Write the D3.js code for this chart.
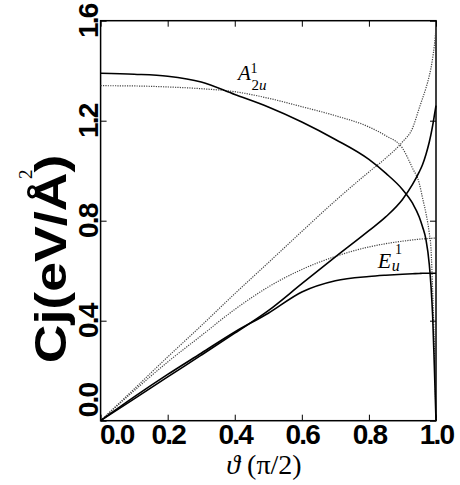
<!DOCTYPE html>
<html>
<head>
<meta charset="utf-8">
<script src="https://cdn.jsdelivr.net/npm/d3@7"></script>
<style>
  body { margin: 0; background: #fff; }
  svg { display: block; }
</style>
</head>
<body>
<svg id="chart"></svg>
<script>
// theta in units of pi/2
const theta = [0, 0.1, 0.2, 0.3, 0.4, 0.5, 0.6, 0.7, 0.8, 0.85, 0.9, 0.93, 0.95, 0.96, 0.97, 0.98, 0.985, 0.99, 0.995, 1.0];

// A2u branch (solid and dotted)
const a2uSolid  = [1.39, 1.386, 1.378, 1.355, 1.305, 1.255, 1.195, 1.125, 1.045, 0.99, 0.925, 0.87, 0.815, 0.775, 0.725, 0.625, 0.54, 0.42, 0.22, 0.0];
const a2uDotted = [1.34, 1.339, 1.335, 1.328, 1.316, 1.29, 1.256, 1.22, 1.175, 1.14, 1.09, 1.01, 0.95, 0.89, 0.83, 0.75, 0.69, 0.52, 0.3, 0.0];
// Eu branch (solid and dotted)
const euSolid   = [0, 0.095, 0.185, 0.27, 0.355, 0.43, 0.515, 0.56, 0.577, 0.582, 0.586, 0.588, 0.589, 0.59, 0.59, 0.59, 0.59, 0.59, 0.59, 0.59];
const euDotted  = [0, 0.12, 0.235, 0.34, 0.445, 0.535, 0.605, 0.657, 0.695, 0.708, 0.718, 0.723, 0.726, 0.727, 0.728, 0.729, 0.729, 0.73, 0.73, 0.73];
// rising curves that end at theta = 1
const riseSolid  = [0, 0.087, 0.175, 0.262, 0.35, 0.44, 0.548, 0.655, 0.76, 0.815, 0.885, 0.945, 0.995, 1.025, 1.065, 1.115, 1.145, 1.18, 1.22, 1.26];
const riseDotted = [0, 0.127, 0.255, 0.38, 0.508, 0.632, 0.757, 0.88, 0.995, 1.05, 1.115, 1.17, 1.25, 1.29, 1.33, 1.38, 1.41, 1.45, 1.5, 1.57];

const xTicks = [0, 0.2, 0.4, 0.6, 0.8, 1.0];
const yTicks = [0, 0.4, 0.8, 1.2, 1.6];

const W = 460, H = 485;
const margin = { top: 20.7, right: 24, bottom: 64.3, left: 100.6 };
const width = W - margin.left - margin.right;
const height = H - margin.top - margin.bottom;

const svg = d3.select("#chart").attr("width", W).attr("height", H);
svg.append("rect").attr("width", W).attr("height", H).attr("fill", "#fff");

const g = svg.append("g").attr("transform", `translate(${margin.left},${margin.top})`);

const x = d3.scaleLinear().domain([0, 1]).range([0, width]);
const y = d3.scaleLinear().domain([0, 1.6]).range([height, 0]);

const fmt = d3.format(".1f");
const tickFont = "'Liberation Sans', Arial, sans-serif";

// bottom axis
const xAxis = g.append("g")
    .attr("transform", `translate(0,${height})`)
    .call(d3.axisBottom(x).tickValues(xTicks).tickFormat(fmt).tickSize(-6).tickSizeOuter(0).tickPadding(3));
// top axis (ticks only)
g.append("g")
    .call(d3.axisTop(x).tickValues(xTicks).tickFormat("").tickSize(-6).tickSizeOuter(0));
// left axis
const yAxis = g.append("g")
    .call(d3.axisLeft(y).tickValues(yTicks).tickFormat(fmt).tickSize(-6).tickSizeOuter(0));
// right axis (ticks only)
g.append("g")
    .attr("transform", `translate(${width},0)`)
    .call(d3.axisRight(y).tickValues(yTicks).tickFormat("").tickSize(-6).tickSizeOuter(0));

g.selectAll(".domain").remove();
g.selectAll(".tick line").attr("stroke", "#000").attr("stroke-width", 1);

xAxis.selectAll("text")
    .attr("font-family", tickFont)
    .attr("font-weight", "bold")
    .attr("font-size", 28)
    .attr("letter-spacing", -1.8)
    .attr("fill", "#000");
xAxis.selectAll("text").filter(d => d === 0)
    .attr("text-anchor", "start")
    .attr("x", -1);

yAxis.selectAll("text")
    .attr("font-family", tickFont)
    .attr("font-weight", "bold")
    .attr("font-size", 28)
    .attr("letter-spacing", -1.8)
    .attr("fill", "#000")
    .attr("transform", "rotate(-90)")
    .attr("x", 0)
    .attr("y", -3)
    .attr("dy", 0)
    .attr("text-anchor", "middle");
yAxis.selectAll("text").filter(d => d === 0)
    .attr("text-anchor", "start")
    .attr("x", 4);

// frame
g.append("rect")
    .attr("width", width).attr("height", height)
    .attr("fill", "none").attr("stroke", "#000").attr("stroke-width", 1.5);

const line = d3.line()
    .x((d, i) => x(theta[i]))
    .y(d => y(d))
    .curve(d3.curveMonotoneX);

const series = [
  { values: a2uDotted, dotted: true },
  { values: euDotted, dotted: true },
  { values: riseDotted, dotted: true },
  { values: a2uSolid, dotted: false },
  { values: euSolid, dotted: false },
  { values: riseSolid, dotted: false }
];

g.selectAll(".curve")
    .data(series)
    .enter().append("path")
    .attr("class", "curve")
    .attr("d", d => line(d.values))
    .attr("fill", "none")
    .attr("stroke", d => d.dotted ? "#444" : "#000")
    .attr("stroke-width", d => d.dotted ? 1.2 : 1.6)
    .attr("stroke-dasharray", d => d.dotted ? "1.2,1.2" : null);

// curve labels
const serif = "'Liberation Serif', 'DejaVu Serif', serif";
const la = g.append("g").attr("font-family", serif).attr("font-style", "italic").attr("fill", "#000");
la.append("text").attr("x", x(0.41)).attr("y", y(1.363)).attr("font-size", 21).text("A");
la.append("text").attr("x", x(0.447)).attr("y", y(1.39)).attr("font-size", 14).attr("font-style", "normal").text("1");
la.append("text").attr("x", x(0.45)).attr("y", y(1.322)).attr("font-size", 15).text("2").attr("font-style", "normal")
  .append("tspan").attr("font-style", "italic").text("u");

const le = g.append("g").attr("font-family", serif).attr("font-style", "italic").attr("fill", "#000");
le.append("text").attr("x", x(0.826)).attr("y", y(0.61)).attr("font-size", 22).text("E");
le.append("text").attr("x", x(0.878)).attr("y", y(0.665)).attr("font-size", 14).attr("font-style", "normal").text("1");
le.append("text").attr("x", x(0.868)).attr("y", y(0.597)).attr("font-size", 16).text("u");

// y title, stretched along its reading direction like the original
svg.append("text")
    .attr("transform", "translate(66,259) rotate(-90) scale(1.22,1)")
    .attr("text-anchor", "middle")
    .attr("font-family", tickFont)
    .attr("font-weight", "bold")
    .attr("font-size", 44)
    .attr("fill", "#000")
    .text("Cj(eV/Å)");
svg.append("text")
    .attr("transform", "translate(32,179) rotate(-90)")
    .attr("font-family", serif)
    .attr("font-size", 19)
    .attr("fill", "#000")
    .text("2");

// x title
const xt = svg.append("text")
    .attr("x", 264).attr("y", 474)
    .attr("text-anchor", "middle")
    .attr("font-family", serif)
    .attr("font-size", 28)
    .attr("fill", "#000");
xt.append("tspan").attr("font-style", "italic").text("ϑ");
xt.append("tspan").attr("dx", 7).text("(π/2)");
</script>
</body>
</html>
